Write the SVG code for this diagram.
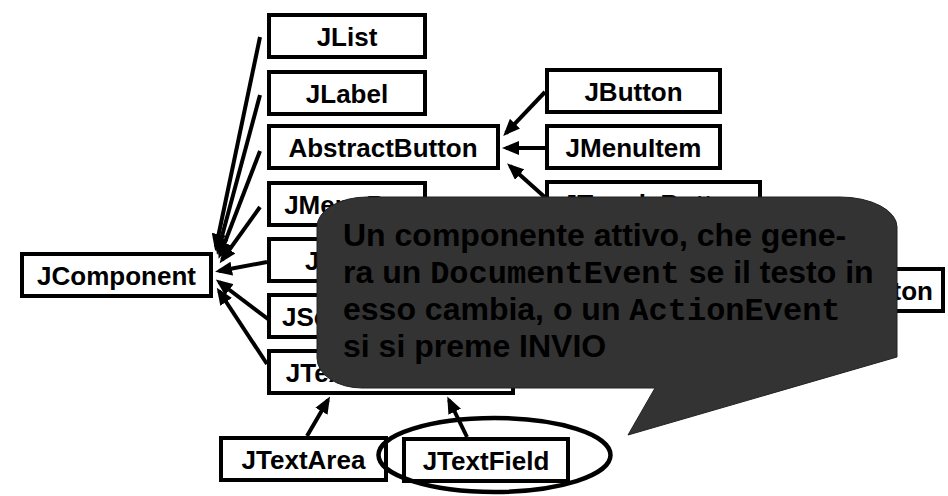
<svg xmlns="http://www.w3.org/2000/svg" width="948" height="496" viewBox="0 0 948 496">
<style>
.box{fill:#fff;stroke:#000;stroke-width:4}
.lbl{font-family:"Liberation Sans",Arial,sans-serif;font-weight:bold;font-size:26px;fill:#000;text-anchor:middle}
.con{stroke:#000;stroke-width:4;fill:none;marker-end:url(#ah)}
.call{font-family:"Liberation Sans",Arial,sans-serif;font-weight:bold;font-size:32px;fill:#000}
.mono{font-family:"Liberation Mono","Courier New",monospace;font-weight:bold}
</style>
<defs>
<marker id="ah" markerUnits="userSpaceOnUse" markerWidth="18" markerHeight="14" refX="13" refY="7" orient="auto">
<path d="M0,0 L17,7 L0,14 Z" fill="#000"/>
</marker>
</defs>
<g id="connectors">
<line class="con" x1="260" y1="37" x2="216" y2="247"/>
<line class="con" x1="260" y1="95" x2="218" y2="251"/>
<line class="con" x1="260" y1="151" x2="220" y2="255"/>
<line class="con" x1="260" y1="207" x2="222" y2="260"/>
<line class="con" x1="267" y1="262" x2="219" y2="271"/>
<line class="con" x1="276" y1="325" x2="219" y2="282"/>
<line class="con" x1="267" y1="364" x2="219" y2="291"/>
<line class="con" x1="545" y1="92" x2="506" y2="133"/>
<line class="con" x1="545" y1="148" x2="506" y2="148"/>
<line class="con" x1="548" y1="200" x2="510" y2="166"/>
<line class="con" x1="307" y1="436" x2="328" y2="400"/>
<line class="con" x1="467" y1="437" x2="449" y2="400"/>
</g>
<g id="JList"><rect class="box" x="269" y="15" width="156" height="42"/><text class="lbl" x="347" y="45.5">JList</text></g>
<g id="JLabel"><rect class="box" x="269" y="72" width="156" height="42"/><text class="lbl" x="347" y="102.5">JLabel</text></g>
<g id="AbstractButton"><rect class="box" x="269" y="126" width="229" height="42"/><text class="lbl" x="383" y="156.5">AbstractButton</text></g>
<g id="JMenuBar"><rect class="box" x="269" y="183" width="156" height="42"/><text class="lbl" x="347" y="213.5">JMenuBar</text></g>
<g id="JPanel"><rect class="box" x="269" y="239" width="156" height="42"/><text class="lbl" x="347" y="269.5">JPanel</text></g>
<g id="JScrollBar"><rect class="box" x="269" y="295" width="156" height="42"/><text class="lbl" x="347" y="325.5">JScrollBar</text></g>
<g id="JTextComponent"><rect class="box" x="269" y="351" width="244" height="42"/><text class="lbl" x="391" y="381.5">JTextComponent</text></g>
<g id="JButton"><rect class="box" x="547" y="70" width="173" height="42"/><text class="lbl" x="633.5" y="100.5">JButton</text></g>
<g id="JMenuItem"><rect class="box" x="547" y="126" width="173" height="42"/><text class="lbl" x="633.5" y="156.5">JMenuItem</text></g>
<g id="JToggleButton"><rect class="box" x="547" y="182" width="213" height="42"/><text class="lbl" x="653.5" y="212.5">JToggleButton</text></g>
<g id="JRadioButton"><rect class="box" x="742" y="269" width="201" height="42"/><text class="lbl" x="843" y="299.5" text-anchor="end" style="text-anchor:end" dx="90">JRadioButton</text></g>
<g id="JComponent"><rect class="box" x="22" y="254" width="189" height="42"/><text class="lbl" x="116.5" y="284.5">JComponent</text></g>
<g id="JTextArea"><rect class="box" x="221" y="438" width="165" height="42"/><text class="lbl" x="303.5" y="468.5">JTextArea</text></g>
<g id="JTextField"><rect class="box" x="404" y="439" width="164" height="42"/><text class="lbl" x="486" y="469.5">JTextField</text></g>
<g id="highlight"><ellipse cx="494.5" cy="455" rx="116" ry="37" fill="none" stroke="#000" stroke-width="4.5"/></g>
<g id="callout">
<path d="M367,197 H840 A57,30 0 0 1 897,227 V357 L628,435 L655,388 H362 A45,30 0 0 1 317,358 V227 A50,30 0 0 1 367,197 Z" fill="#333333" stroke="#222" stroke-width="1"/>
<text class="call" x="343" y="246">Un componente attivo, che gene-</text>
<text class="call" x="343" y="283">ra un <tspan class="mono">DocumentEvent</tspan> se il testo in</text>
<text class="call" x="343" y="320">esso cambia, o un <tspan class="mono">ActionEvent</tspan></text>
<text class="call" x="343" y="357">si si preme INVIO</text>
</g>
</svg>
